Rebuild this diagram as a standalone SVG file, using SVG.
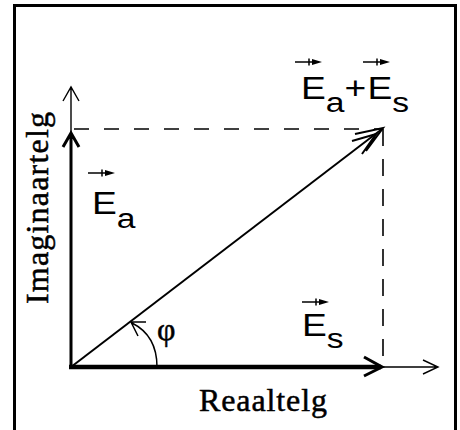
<svg xmlns="http://www.w3.org/2000/svg" xmlns:xlink="http://www.w3.org/1999/xlink" width="460" height="430" viewBox="0 0 460 430">
<style>
.ln{fill:none;stroke:#000;stroke-linecap:butt;stroke-linejoin:miter}
.thin{stroke-width:1.4}
.dash1{stroke-width:1.6;stroke-dasharray:15 15}
.dash2{stroke-width:1.6;stroke-dasharray:17 13}
.sans{font-family:"Liberation Sans",Arial,sans-serif;font-size:31px;fill:#000}
.serif{font-family:"Liberation Serif","Times New Roman",serif;font-size:32px;fill:#000;stroke:#000;stroke-width:0.5}
</style>
<defs>
<g id="va">
<path d="M0,0 H22" class="ln" stroke-width="1.5"/>
<path d="M14,-3.5 V3.5" class="ln" stroke-width="1.5"/>
<path d="M17,-3 L27,0 L17,3 Z" fill="#000"/>
</g>
</defs>
<rect x="0" y="0" width="460" height="430" fill="#fff"/>
<rect x="14.5" y="5.5" width="441" height="450" fill="none" stroke="#000" stroke-width="3"/>

<g id="connectors">
<path class="ln thin" d="M71,367 V87 M63,101 L71,87 L79,101"/>
<path class="ln thin" d="M383,367 H438 M423,360 L438,367 L423,374"/>
<path class="ln dash1" d="M74,129 H383"/>
<path class="ln dash2" d="M383,129 V367"/>
<path class="ln" stroke-width="3" d="M71,367 V133 M63,147 L71,133 L79,147"/>
<path class="ln" stroke-width="4.5" d="M69,367 H381"/>
<path class="ln" stroke-width="3" d="M364,357 L382,367 L364,376"/>
<path class="ln" stroke-width="2" d="M71,367 L382,129"/>
<path class="ln" stroke-width="2" d="M355,134 L383,128 L366,151 M352,141 L376,134 L362,154"/>
<path class="ln" stroke-width="1.5" d="M157,367 C157,345 148,331 132,323 M146,322 L131,322 L138,336"/>
</g>

<g id="label-imag">
<text class="serif" transform="translate(48,304) rotate(-90)" textLength="192" lengthAdjust="spacing">Imaginaartelg</text>
</g>
<g id="label-real">
<text class="serif" x="199" y="411" textLength="128" lengthAdjust="spacing">Reaaltelg</text>
</g>
<g id="label-phi">
<text class="serif" x="157" y="340">φ</text>
</g>
<g id="label-ea">
<use xlink:href="#va" x="88" y="173"/>
<text class="sans" transform="translate(92,214) scale(1.2,1)">E<tspan dy="14" font-size="28">a</tspan></text>
</g>
<g id="label-es">
<use xlink:href="#va" x="302" y="302"/>
<text class="sans" transform="translate(302,336) scale(1.2,1)">E<tspan dy="12" font-size="28">s</tspan></text>
</g>
<g id="label-sum">
<use xlink:href="#va" x="295" y="62"/>
<use xlink:href="#va" x="363" y="62"/>
<text class="sans" transform="translate(301,99) scale(1.2,1)">E<tspan dy="13" font-size="28">a</tspan><tspan dy="-13">+</tspan><tspan dx="1">E</tspan><tspan dy="13" font-size="28">s</tspan></text>
</g>
</svg>
